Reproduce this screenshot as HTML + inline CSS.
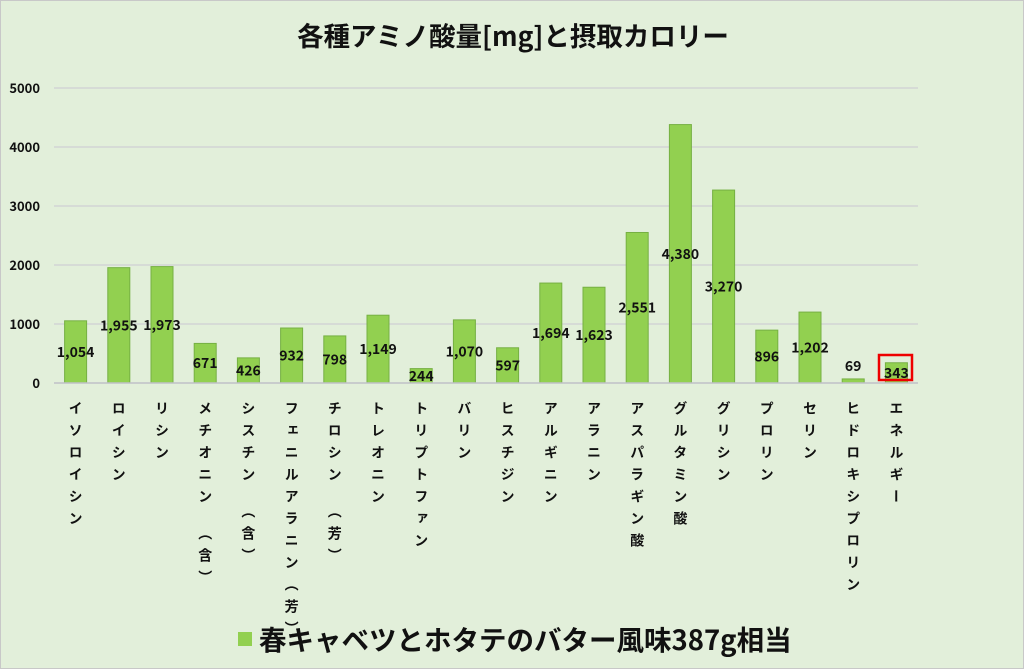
<!DOCTYPE html>
<html><head><meta charset="utf-8"><style>
body{margin:0;width:1024px;height:669px;overflow:hidden;background:#fff}
#c{position:absolute;left:0;top:0;width:1022px;height:667px;background:#e2efda;border:1px solid #c8c8c8;font-family:"Noto Sans CJK JP",sans-serif}
.v{position:absolute;top:400px;writing-mode:vertical-rl;font-size:14px;font-weight:bold;letter-spacing:8px;line-height:16px;color:#111;font-family:"Noto Sans CJK JP",sans-serif}
</style></head><body><div id="c">
<svg width="1024" height="669" style="position:absolute;left:0;top:0" font-family="Noto Sans CJK JP,sans-serif">
<text x="512" y="45" text-anchor="middle" font-size="26.5" font-weight="bold" fill="#111">各種アミノ酸量[mg]と摂取カロリー</text>
<g stroke="#cfcfd4" stroke-width="1.3">
<line x1="53" x2="917" y1="87" y2="87"/><line x1="53" x2="917" y1="146" y2="146"/><line x1="53" x2="917" y1="205" y2="205"/><line x1="53" x2="917" y1="264" y2="264"/><line x1="53" x2="917" y1="323" y2="323"/>
</g>
<g font-size="13" font-weight="bold" fill="#111" text-anchor="end">
<text x="39" y="92">5000</text><text x="39" y="151">4000</text><text x="39" y="210">3000</text><text x="39" y="269">2000</text><text x="39" y="328">1000</text><text x="39" y="387">0</text>
</g>
<g id="bars" fill="#92d050" stroke="#76b043" stroke-width="1"></g>
<line x1="53" x2="917" y1="382" y2="382" stroke="#c0c0c8" stroke-width="1.5"/>
<g id="lbl" font-size="14" font-weight="bold" fill="#111" text-anchor="middle"></g>
<rect x="878" y="354" width="33" height="25" fill="none" stroke="#e00" stroke-width="2.5"/>
<rect x="237" y="631" width="14" height="14" fill="#92d050"/>
<text x="258" y="649" font-size="27.5" font-weight="bold" fill="#111">春キャベツとホタテのバター風味387g相当</text>
</svg>
<div id="vl"></div>
</div>
<script>
var v=[1054,1955,1973,671,426,932,798,1149,244,1070,597,1694,1623,2551,4380,3270,896,1202,69,343];
var n=["イソロイシン","ロイシン","リシン","メチオニン　（含）","シスチン　（含）","フェニルアラニン（芳）","チロシン　（芳）","トレオニン","トリプトファン","バリン","ヒスチジン","アルギニン","アラニン","アスパラギン酸","グルタミン酸","グリシン","プロリン","セリン","ヒドロキシプロリン","エネルギー"];
var b="",l="",h="";
for(var i=0;i<20;i++){var cx=53+43.2*(i+0.5);var hh=v[i]*0.059;var y=382-hh;
b+='<rect x="'+(cx-11)+'" y="'+y+'" width="22" height="'+hh+'"/>';
var ly=i==18?370:(y+hh/2+5);
l+='<text x="'+cx+'" y="'+ly+'">'+v[i].toLocaleString("en-US")+'</text>';
h+='<div class="v" style="left:'+(cx-8)+'px">'+n[i]+'</div>';}
document.getElementById("bars").innerHTML=b;document.getElementById("lbl").innerHTML=l;document.getElementById("vl").innerHTML=h;
</script>
</body></html>
